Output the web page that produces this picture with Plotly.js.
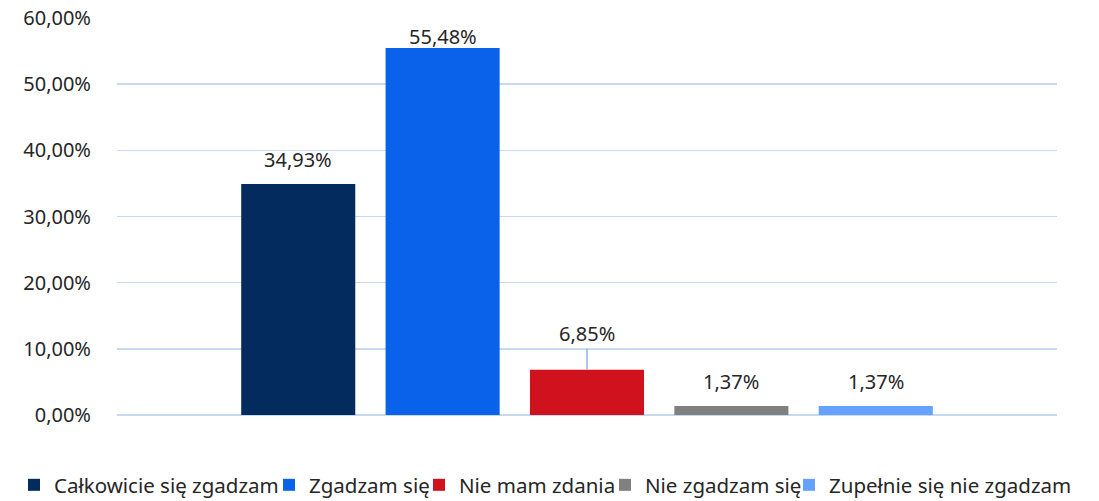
<!DOCTYPE html>
<html>
<head>
<meta charset="utf-8">
<script src="https://cdn.plot.ly/plotly-3.0.1.min.js"></script>
<style>html,body{margin:0;padding:0;background:#fff;}#chart{width:1099px;height:501px;}</style>
</head>
<body>
<div id="chart"></div>
<script>
const seriesNames = ["Całkowicie się zgadzam", "Zgadzam się", "Nie mam zdania", "Nie zgadzam się", "Zupełnie się nie zgadzam"];
const seriesValues = [34.93, 55.48, 6.85, 1.37, 1.37];
const seriesColors = ["#032b5e", "#0a62ea", "#d0121e", "#808080", "#66a1ff"];
const category = [""];

// layout-only settings (pixel offsets / positions)
const labelShift = [24, 11, 36, 24, 24];
const legendTextStart = [57, 312, 462, 648, 832];

const fontFam = "'Noto Sans', 'Open Sans', sans-serif";
const textColor = "#262626";
const legendKeys = ["legend", "legend2", "legend3", "legend4", "legend5"];

const traces = seriesNames.map((n, i) => ({
  type: "bar",
  name: n,
  x: category,
  y: [seriesValues[i]],
  marker: {color: seriesColors[i]},
  legend: legendKeys[i],
  hoverinfo: "skip"
}));

const nS = seriesNames.length;
const bargap = 0.232;
const slot = (1 - bargap) / nS;
const annotations = seriesValues.map((v, i) => {
  const xc = -0.5 + bargap / 2 + slot * (i + 0.5);
  const txt = v.toFixed(2).replace(".", ",") + "%";
  if (i === 2) {
    return {x: xc, y: v, xref: "x", yref: "y", text: txt, showarrow: true, arrowhead: 0,
      arrowwidth: 1.5, arrowcolor: "#8db4e2", ax: 0, ay: -labelShift[i], standoff: 0,
      font: {family: fontFam, size: 20, color: textColor}};
  }
  return {x: xc, y: v, xref: "x", yref: "y", text: txt, showarrow: false, yanchor: "middle",
    yshift: labelShift[i], font: {family: fontFam, size: 20, color: textColor}};
});

const layout = {
  width: 1099, height: 501,
  margin: {l: 117, r: 42, t: 18, b: 86},
  paper_bgcolor: "#fff", plot_bgcolor: "#fff",
  separators: ", ",
  barmode: "group",
  bargap: bargap,
  bargroupgap: 0.21,
  font: {family: fontFam, size: 20, color: textColor},
  xaxis: {type: "category", range: [-0.5, 0.5], showticklabels: false, showgrid: false, zeroline: false, showline: false, fixedrange: true},
  yaxis: {range: [0, 60], dtick: 10, tick0: 0, tickformat: ".2f", ticksuffix: "%",
    showgrid: true, gridcolor: "#c6d9f1", gridwidth: 1.5, zeroline: true, zerolinecolor: "#c6d9f1", zerolinewidth: 1.5,
    showline: false, ticks: "", ticklabelstandoff: 25, tickfont: {family: fontFam, size: 20, color: textColor}},
  annotations: annotations,
  showlegend: true
};
legendKeys.forEach((k, i) => {
  layout[k] = {orientation: "h", xref: "container", yref: "container",
    x: (legendTextStart[i] - 43) / 1099, xanchor: "left", y: 16 / 501, yanchor: "middle",
    bgcolor: "rgba(0,0,0,0)", borderwidth: 0,
    font: {family: fontFam, size: 20.5, color: textColor}, itemwidth: 30};
});

Plotly.newPlot("chart", traces, layout, {displayModeBar: false, staticPlot: true});
</script>
</body>
</html>
